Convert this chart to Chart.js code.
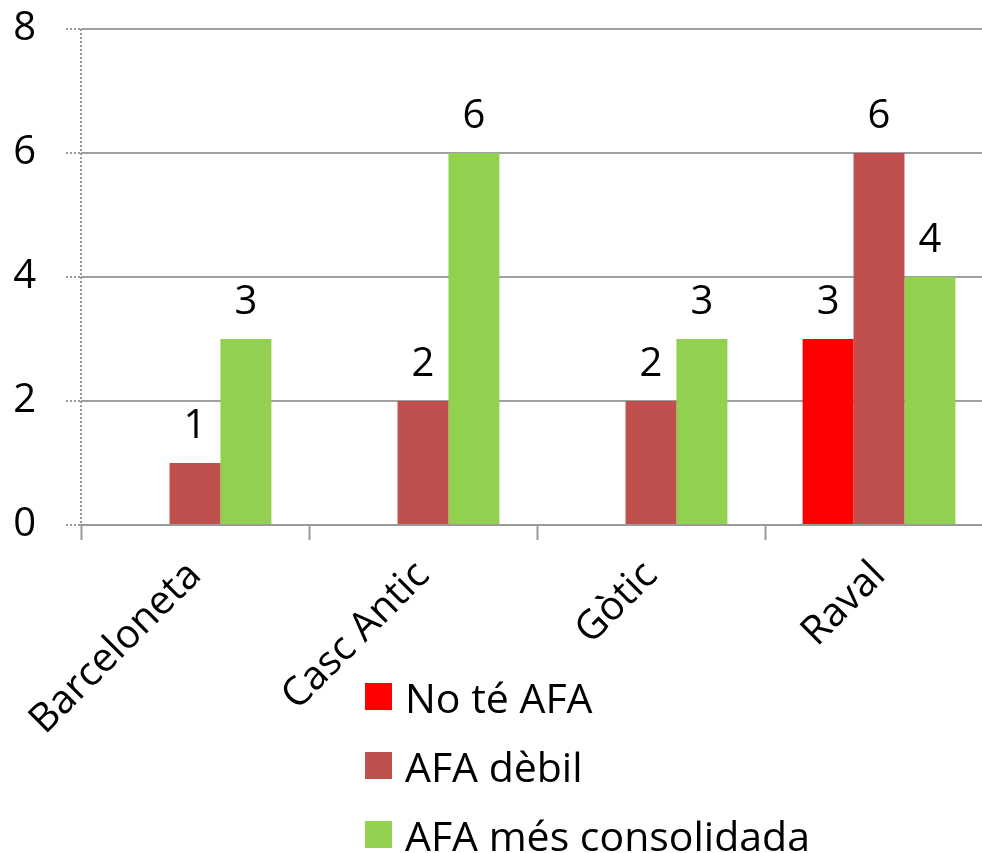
<!DOCTYPE html>
<html>
<head>
<meta charset="utf-8">
<script src="https://cdn.jsdelivr.net/npm/chart.js@4/dist/chart.umd.min.js"></script>
<style>
  html, body { margin: 0; padding: 0; background: #fff; overflow: hidden; }
  #wrap { position: relative; width: 982px; height: 853px; overflow: hidden; }
  #chart { position: absolute; left: 0; top: 0; }
  #legend { position: absolute; left: 365px; top: 662px; font-family: "Open Sans", Lato, sans-serif; font-size: 41px; color: #000; }
  #legend .item { display: flex; align-items: center; height: 69px; }
  #legend .box { width: 27px; height: 27px; margin-right: 13px; }
</style>
</head>
<body>
<div id="wrap">
  <canvas id="chart" width="1000" height="853"></canvas>
  <div id="legend"></div>
</div>
<script>
// Data
const categories = ['Barceloneta', 'Casc Antic', 'Gòtic', 'Raval'];
const noTeAfa = [0, 0, 0, 3];
const afaDebil = [1, 2, 2, 6];
const afaConsolidada = [3, 6, 3, 4];
const seriesNames = ['No té AFA', 'AFA dèbil', 'AFA més consolidada'];
const seriesColors = ['#FF0000', '#C0504D', '#92D050'];
const yTicks = [0, 2, 4, 6, 8];

const fontFamily = '"Open Sans", Lato, sans-serif';

// Draw the numbers above the bars
const barLabels = {
    id: 'barLabels',
    afterDatasetsDraw(chart) {
        const ctx = chart.ctx;
        ctx.save();
        ctx.font = '40px ' + fontFamily;
        ctx.fillStyle = '#000';
        ctx.textAlign = 'center';
        ctx.textBaseline = 'alphabetic';
        chart.data.datasets.forEach((ds, i) => {
            const meta = chart.getDatasetMeta(i);
            meta.data.forEach((bar, j) => {
                const v = ds.data[j];
                if (!v) return;
                ctx.fillText(String(v), bar.x, bar.y - 25);
            });
        });
        ctx.restore();
    }
};

// Dotted vertical axis line on the left
const dottedYAxis = {
    id: 'dottedYAxis',
    beforeDatasetsDraw(chart) {
        const a = chart.chartArea;
        const ctx = chart.ctx;
        ctx.save();
        ctx.strokeStyle = '#999';
        ctx.lineWidth = 2;
        ctx.setLineDash([2, 2]);
        ctx.beginPath();
        ctx.moveTo(a.left, a.top);
        ctx.lineTo(a.left, a.bottom);
        ctx.stroke();
        ctx.restore();
    }
};

const ctx = document.getElementById('chart').getContext('2d');
const chart = new Chart(ctx, {
    type: 'bar',
    data: {
        labels: categories,
        datasets: [
            { label: seriesNames[0], data: noTeAfa, backgroundColor: seriesColors[0] },
            { label: seriesNames[1], data: afaDebil, backgroundColor: seriesColors[1] },
            { label: seriesNames[2], data: afaConsolidada, backgroundColor: seriesColors[2] }
        ]
    },
    options: {
        responsive: false,
        animation: false,
        layout: { padding: { top: 29, right: 7, left: 0, bottom: 0 } },
        datasets: {
            bar: { categoryPercentage: 0.67, barPercentage: 1.0, borderWidth: 0 }
        },
        plugins: {
            legend: { display: false },
            tooltip: { enabled: false }
        },
        scales: {
            x: {
                grid: {
                    offset: true,
                    drawOnChartArea: false,
                    drawTicks: true,
                    tickLength: 15,
                    tickColor: '#999',
                    tickWidth: 2
                },
                border: { color: '#999', width: 2 },
                ticks: {
                    font: { family: fontFamily, size: 40 },
                    color: '#000',
                    minRotation: 45,
                    maxRotation: 45,
                    padding: 12
                },
                afterFit(scale) { scale.height = 328; }
            },
            y: {
                min: 0,
                max: 8,
                afterBuildTicks(scale) { scale.ticks = yTicks.map(v => ({ value: v })); },
                grid: {
                    color: '#a0a0a0',
                    lineWidth: 2,
                    tickLength: 15,
                    tickColor: '#999',
                    tickWidth: 2,
                    tickBorderDash: [2, 2]
                },
                border: { display: false },
                ticks: {
                    font: { family: fontFamily, size: 40 },
                    color: '#000',
                    padding: 30
                },
                afterFit(scale) {
                    scale.width = 81;
                    scale.paddingTop = 0;
                    scale.paddingBottom = 0;
                }
            }
        }
    },
    plugins: [barLabels, dottedYAxis]
});

// HTML legend built from the datasets
const legendEl = document.getElementById('legend');
chart.data.datasets.forEach(ds => {
    const item = document.createElement('div');
    item.className = 'item';
    item.innerHTML = `<span class="box" style="background:${ds.backgroundColor}"></span><span>${ds.label}</span>`;
    legendEl.appendChild(item);
});
</script>
</body>
</html>
